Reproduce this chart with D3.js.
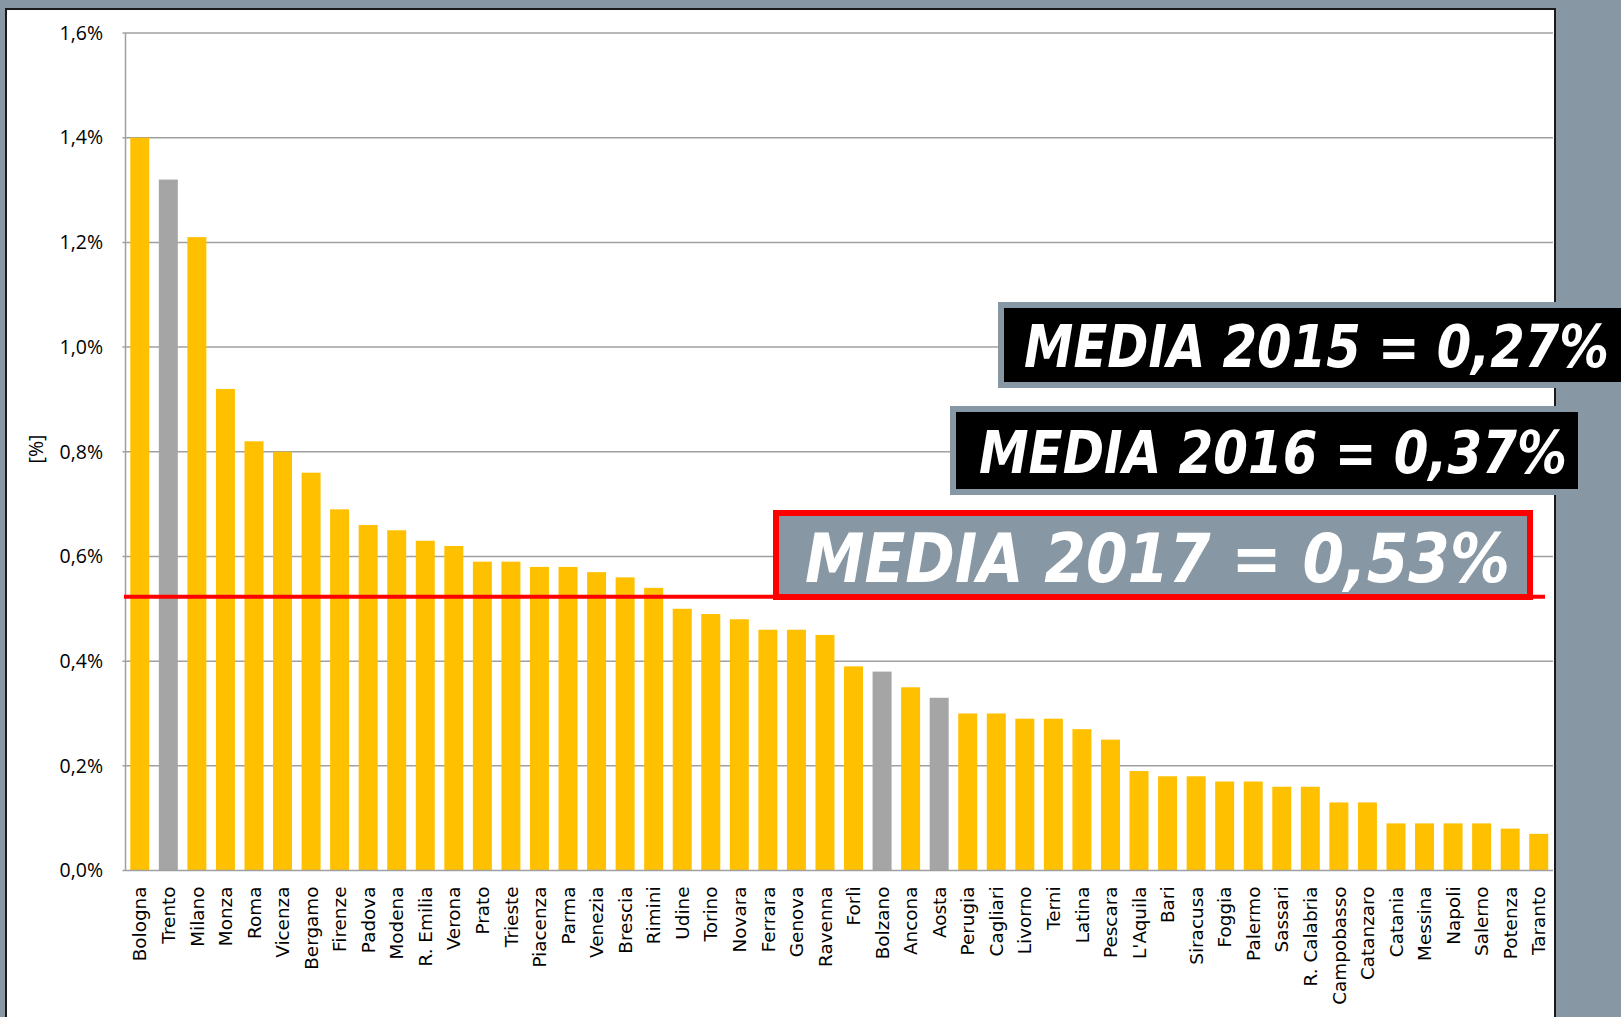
<!DOCTYPE html>
<html>
<head>
<meta charset="utf-8">
<script src="https://cdn.jsdelivr.net/npm/d3@7"></script>
<style>
  html, body { margin: 0; padding: 0; background: #8797A4; }
  svg { display: block; }
</style>
</head>
<body>
<svg id="chart" width="1621" height="1017"></svg>
<script>
// ---- data ----
const cities = ["Bologna","Trento","Milano","Monza","Roma","Vicenza","Bergamo","Firenze","Padova","Modena",
  "R. Emilia","Verona","Prato","Trieste","Piacenza","Parma","Venezia","Brescia","Rimini","Udine",
  "Torino","Novara","Ferrara","Genova","Ravenna","Forlì","Bolzano","Ancona","Aosta","Perugia",
  "Cagliari","Livorno","Terni","Latina","Pescara","L'Aquila","Bari","Siracusa","Foggia","Palermo",
  "Sassari","R. Calabria","Campobasso","Catanzaro","Catania","Messina","Napoli","Salerno","Potenza","Taranto"];
const values = [1.40,1.32,1.21,0.92,0.82,0.80,0.76,0.69,0.66,0.65,
  0.63,0.62,0.59,0.59,0.58,0.58,0.57,0.56,0.54,0.50,
  0.49,0.48,0.46,0.46,0.45,0.39,0.38,0.35,0.33,0.30,
  0.30,0.29,0.29,0.27,0.25,0.19,0.18,0.18,0.17,0.17,
  0.16,0.16,0.13,0.13,0.09,0.09,0.09,0.09,0.08,0.07];
const grayCities = ["Trento","Bolzano","Aosta"];
const yTicks = [0,0.2,0.4,0.6,0.8,1.0,1.2,1.4,1.6];
const meanLineValue = 0.523;
const annotations = ["MEDIA 2015 = 0,27%","MEDIA 2016 = 0,37%","MEDIA 2017 = 0,53%"];

(function () {
const svg = d3.select("#chart");
const W = 1621, H = 1017;

// background & white panel
svg.append("rect").attr("x",0).attr("y",0).attr("width",W).attr("height",H).attr("fill","#8797A4");
svg.append("rect").attr("x",6).attr("y",9).attr("width",1549).attr("height",1020)
  .attr("fill","#ffffff").attr("stroke","#1a1a1a").attr("stroke-width",2);

const pL = 125.5, pR = 1553, pT = 33, pB = 870.5;
const x = d3.scaleBand().domain(cities).range([pL, pR]).paddingInner(0.335).paddingOuter(0.1675);
const y = d3.scaleLinear().domain([0, 1.6]).range([pB, pT]);

// gridlines
svg.append("g").selectAll("line").data(yTicks.filter(d => d > 0)).join("line")
  .attr("x1", pL - 3).attr("x2", pR)
  .attr("y1", d => y(d)).attr("y2", d => y(d))
  .attr("stroke", "#a0a0a0").attr("stroke-width", 1.5);

// bars
svg.append("g").selectAll("rect").data(cities).join("rect")
  .attr("x", d => x(d))
  .attr("width", x.bandwidth())
  .attr("y", (d,i) => y(values[i]))
  .attr("height", (d,i) => y(0) - y(values[i]))
  .attr("fill", d => grayCities.includes(d) ? "#A5A5A5" : "#FFC000");

// axes lines
svg.append("line").attr("x1", pL).attr("x2", pL).attr("y1", pT).attr("y2", pB)
  .attr("stroke", "#a0a0a0").attr("stroke-width", 1.5);
svg.append("line").attr("x1", pL - 3).attr("x2", pR).attr("y1", pB).attr("y2", pB)
  .attr("stroke", "#a0a0a0").attr("stroke-width", 1.5);

// y tick labels
const yAxis = d3.axisLeft(y).tickValues(yTicks).tickSize(0).tickPadding(0)
  .tickFormat(d => d3.format(".1f")(d).replace(".", ",") + "%");
const gy = svg.append("g").attr("transform", `translate(103,0)`).call(yAxis);
gy.select(".domain").remove();
gy.selectAll("text").attr("font-family", "'Open Sans', sans-serif").attr("font-size", 19.5).attr("fill", "#000");

// x labels
const xAxis = d3.axisBottom(x).tickSize(0).tickPadding(0);
const gx = svg.append("g").attr("transform", `translate(0,${pB})`).call(xAxis);
gx.select(".domain").remove();
gx.selectAll("text")
  .attr("font-family", "'DejaVu Sans', sans-serif").attr("font-size", 18.4).attr("fill", "#000")
  .attr("text-anchor", "end")
  .attr("transform", "translate(0,16) rotate(-90)")
  .attr("x", 0).attr("y", 0).attr("dy", "0.36em");

// y axis title
svg.append("text").attr("transform", "translate(36.5,449) rotate(-90)")
  .attr("text-anchor", "middle").attr("dy", "0.35em")
  .attr("font-family", "'Open Sans', sans-serif").attr("font-size", 19.5).text("[%]");

// red mean line
svg.append("line").attr("x1", 124).attr("x2", 1545)
  .attr("y1", y(meanLineValue)).attr("y2", y(meanLineValue))
  .attr("stroke", "#FF0000").attr("stroke-width", 3.8);

// annotation boxes
function annBox(o) {
  const g = svg.append("g");
  g.append("rect").attr("x", o.x).attr("y", o.y).attr("width", o.w).attr("height", o.h)
    .attr("fill", o.fill).attr("stroke", o.stroke).attr("stroke-width", o.sw);
  const t = g.append("text").attr("x", 0).attr("y", 0)
    .attr("font-family", "'DejaVu Sans', sans-serif").attr("font-weight", "bold").attr("font-style", "italic")
    .attr("font-size", o.fs).attr("fill", "#ffffff")
    .text(o.text);
  const natural = t.node().getComputedTextLength();
  const sx = o.tl / natural;
  t.attr("transform", `translate(${o.tx},${o.ty}) scale(${sx},1)`);
}
annBox({x: 1001, y: 305, w: 640, h: 80, fill: "#000", stroke: "#8797A4", sw: 6,
  tx: 1024, ty: 367, fs: 58, tl: 585, text: annotations[0]});
annBox({x: 953, y: 409, w: 628, h: 83, fill: "#000", stroke: "#8797A4", sw: 6,
  tx: 979, ty: 472.5, fs: 58, tl: 588, text: annotations[1]});
annBox({x: 776, y: 513, w: 754, h: 84, fill: "#8797A4", stroke: "#FF0000", sw: 6,
  tx: 805, ty: 582, fs: 68, tl: 705, text: annotations[2]});
})();
</script>
</body>
</html>
